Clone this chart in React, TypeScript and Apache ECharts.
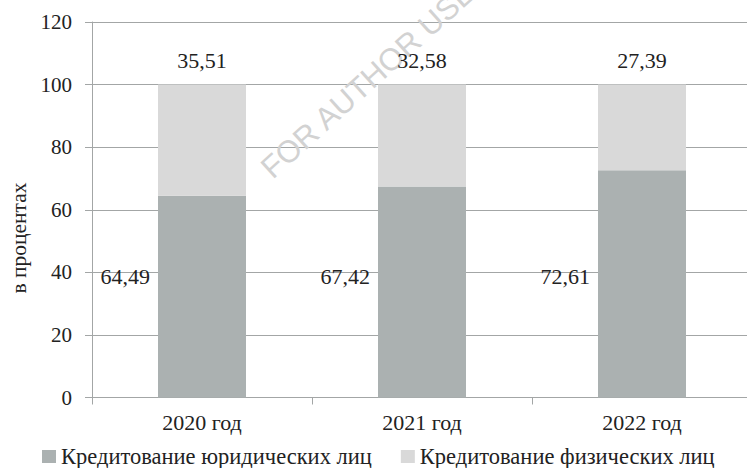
import React, { useEffect, useRef } from "react";
import * as echarts from "echarts";

const categories = ["2020 год", "2021 год", "2022 год"];
const legalEntities = [64.49, 67.42, 72.61];
const individuals = [35.51, 32.58, 27.39];
const seriesNames = ["Кредитование юридических лиц", "Кредитование физических лиц"];
const yAxisTitle = "в процентах";
const watermark = "FOR AUTHOR USE";

const fmt = (v: number) => v.toFixed(2).replace(".", ",");

const FONT = "Liberation Serif";
const TEXT = "#222222";
const GRID = "#a3a6a6";

export default function App() {
  const ref = useRef<HTMLDivElement>(null);
  useEffect(() => {
    if (!ref.current) return;
    const chart = echarts.init(ref.current, undefined, { renderer: "svg" });
    chart.setOption({
      animation: false,
      backgroundColor: "#ffffff",
      textStyle: { fontFamily: FONT, color: TEXT },
      grid: { left: 92, right: 8, top: 22, bottom: 70.5, containLabel: false, outerBoundsMode: "none" },
      legend: {
        left: 42,
        top: 445,
        padding: 0,
        itemWidth: 14,
        itemHeight: 13,
        itemGap: 29,
        icon: "rect",
        textStyle: { fontFamily: FONT, fontSize: 22.5, color: TEXT },
        data: seriesNames,
      },
      xAxis: {
        type: "category",
        data: categories,
        axisLine: { lineStyle: { color: GRID, width: 1 } },
        axisTick: { show: true, length: 7, alignWithLabel: false, lineStyle: { color: GRID } },
        axisLabel: { fontFamily: FONT, fontSize: 22, color: TEXT, margin: 14 },
      },
      yAxis: {
        type: "value",
        min: 0,
        max: 120,
        interval: 20,
        axisLine: { show: true, lineStyle: { color: GRID, width: 1 } },
        axisTick: { show: true, length: 7, lineStyle: { color: GRID } },
        splitLine: { show: true, lineStyle: { color: GRID, width: 1 } },
        axisLabel: { fontFamily: FONT, fontSize: 21, color: TEXT, margin: 20 },
      },
      graphic: [
        {
          type: "text",
          x: 19,
          y: 238,
          rotation: Math.PI / 2,
          style: {
            text: yAxisTitle,
            fontFamily: FONT,
            fontSize: 21.5,
            fill: TEXT,
            align: "center",
            verticalAlign: "middle",
          },
        },
        {
          type: "text",
          x: 368,
          y: 80,
          rotation: (42 * Math.PI) / 180,
          z: 1,
          silent: true,
          style: {
            text: watermark,
            fontFamily: "Liberation Sans",
            fontSize: 31,
            fill: "#d2d2d2",
            align: "center",
            verticalAlign: "middle",
          },
        },
      ],
      series: [
        {
          name: seriesNames[0],
          type: "bar",
          stack: "total",
          barWidth: "40%",
          z: 2,
          itemStyle: { color: "#abb1b1" },
          data: legalEntities,
          label: {
            show: true,
            position: "insideBottomLeft",
            distance: 0,
            align: "right",
            verticalAlign: "middle",
            offset: [-8, -121],
            fontFamily: FONT,
            fontSize: 22,
            color: TEXT,
            formatter: (p: any) => fmt(p.value),
          },
        },
        {
          name: seriesNames[1],
          type: "bar",
          stack: "total",
          barWidth: "40%",
          z: 2,
          itemStyle: { color: "#d9d9d9" },
          data: individuals,
          label: {
            show: true,
            position: "top",
            distance: 13,
            fontFamily: FONT,
            fontSize: 22,
            color: TEXT,
            formatter: (p: any) => fmt(p.value),
          },
        },
      ],
    });
    return () => chart.dispose();
  }, []);
  return (
    <div style={{ position: "fixed", left: 0, top: 0, width: 747, height: 468, overflow: "hidden", background: "#fff" }}>
      <div ref={ref} style={{ width: 760, height: 468 }} />
    </div>
  );
}
